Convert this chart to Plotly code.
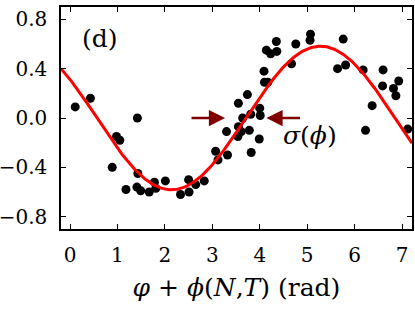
import numpy as np
import plotly.graph_objects as go

# ---- data ----
phase_x = [0.11, 0.43, 0.98, 1.05, 1.42, 0.89, 1.43, 1.18, 1.41, 1.49,
           1.67, 1.78, 1.81, 2.01, 2.33, 2.50, 2.51, 2.65, 2.83, 3.07,
           3.32, 3.12, 3.30, 3.55, 3.61, 3.54, 3.78, 3.99, 3.82, 3.64,
           3.81, 4.01, 4.00, 3.55, 3.74, 4.10, 4.17, 4.09, 4.67, 4.14,
           4.23, 4.36, 4.35, 4.76, 5.07, 5.06, 5.76, 5.64, 5.81, 6.18,
           6.60, 6.59, 6.93, 6.82, 6.87, 6.37, 6.23, 7.12]
signal_y = [0.09, 0.16, -0.15, -0.18, 0.00, -0.40, -0.45, -0.58, -0.56, -0.59,
            -0.60, -0.52, -0.57, -0.51, -0.62, -0.50, -0.60, -0.54, -0.51, -0.27,
            -0.30, -0.34, -0.11, -0.07, -0.11, -0.15, -0.10, -0.17, -0.28, 0.00,
            0.03, 0.02, 0.08, 0.12, 0.19, 0.29, 0.29, 0.38, 0.44, 0.55,
            0.52, 0.54, 0.62, 0.60, 0.68, 0.63, 0.64, 0.40, 0.43, 0.39,
            0.39, 0.26, 0.30, 0.24, 0.18, 0.10, -0.10, -0.09]

# sinusoidal fit parameters (amplitude, phase of maximum)
fit_amplitude = 0.582
fit_peak_phase = 5.28

x_tick_vals = [0, 1, 2, 3, 4, 5, 6, 7]
x_tick_text = ["0", "1", "2", "3", "4", "5", "6", "7"]
y_tick_vals = [0.8, 0.4, 0.0, -0.4, -0.8]
y_tick_text = ["0.8", "0.4", "0.0", "\u22120.4", "\u22120.8"]

x_range = [-0.19, 7.21]
y_range = [-0.9, 0.9]

# sigma(phi) arrows: (tail, tip) in data units
arrow_left = (2.53, 3.27)
arrow_right = (4.88, 4.14)
arrow_y = 0.0

x_fit = np.linspace(x_range[0], x_range[1], 400)
y_fit = fit_amplitude * np.cos(x_fit - fit_peak_phase)

FONT = "DejaVu Serif"

fig = go.Figure()
fig.add_trace(go.Scatter(x=phase_x, y=signal_y, mode="markers",
                         marker=dict(color="black", size=9),
                         showlegend=False, cliponaxis=True))
fig.add_trace(go.Scatter(x=x_fit, y=y_fit, mode="lines",
                         line=dict(color="#ff0000", width=3),
                         showlegend=False))

axis_common = dict(showline=True, linecolor="black", linewidth=1.5,
                   mirror="ticks", ticks="inside", ticklen=5, tickwidth=1.2,
                   tickcolor="black", showgrid=False, zeroline=False,
                   automargin=False,
                   tickfont=dict(family=FONT, size=20, color="black"))

fig.update_xaxes(range=x_range, tickvals=x_tick_vals, ticktext=x_tick_text,
                 ticklabelstandoff=7,
                 title=dict(text="<i>φ</i> + <i>ϕ</i>(<i>N</i>,<i>T</i>) (rad)",
                            font=dict(family=FONT, size=25, color="black"),
                            standoff=13),
                 **axis_common)
fig.update_yaxes(range=y_range, tickvals=y_tick_vals, ticktext=y_tick_text,
                 ticklabelstandoff=8, **axis_common)

arrow_color = "#800000"
for tail, tip in (arrow_left, arrow_right):
    fig.add_annotation(x=tip, y=arrow_y, ax=tail, ay=arrow_y,
                       xref="x", yref="y", axref="x", ayref="y",
                       showarrow=True, arrowhead=2, arrowsize=1.3,
                       arrowwidth=2.5, arrowcolor=arrow_color, text="")

fig.add_annotation(x=5.06, y=-0.142, xref="x", yref="y", showarrow=False,
                   text="<i>σ</i>(<i>ϕ</i>)",
                   font=dict(family=FONT, size=25, color="black"),
                   xanchor="center", yanchor="middle")
fig.add_annotation(x=0.054, y=0.86, xref="paper", yref="paper", showarrow=False,
                   text="(d)", font=dict(family=FONT, size=25, color="black"),
                   xanchor="left", yanchor="middle")

fig.update_layout(width=415, height=309,
                  margin=dict(l=61, r=3, t=7, b=80),
                  plot_bgcolor="white", paper_bgcolor="white")

fig.write_html("out.html",
               config={"displayModeBar": False},
               post_script="document.body.style.margin='0';"
                           "document.body.style.padding='0';"
                           "document.body.style.overflow='hidden';")
